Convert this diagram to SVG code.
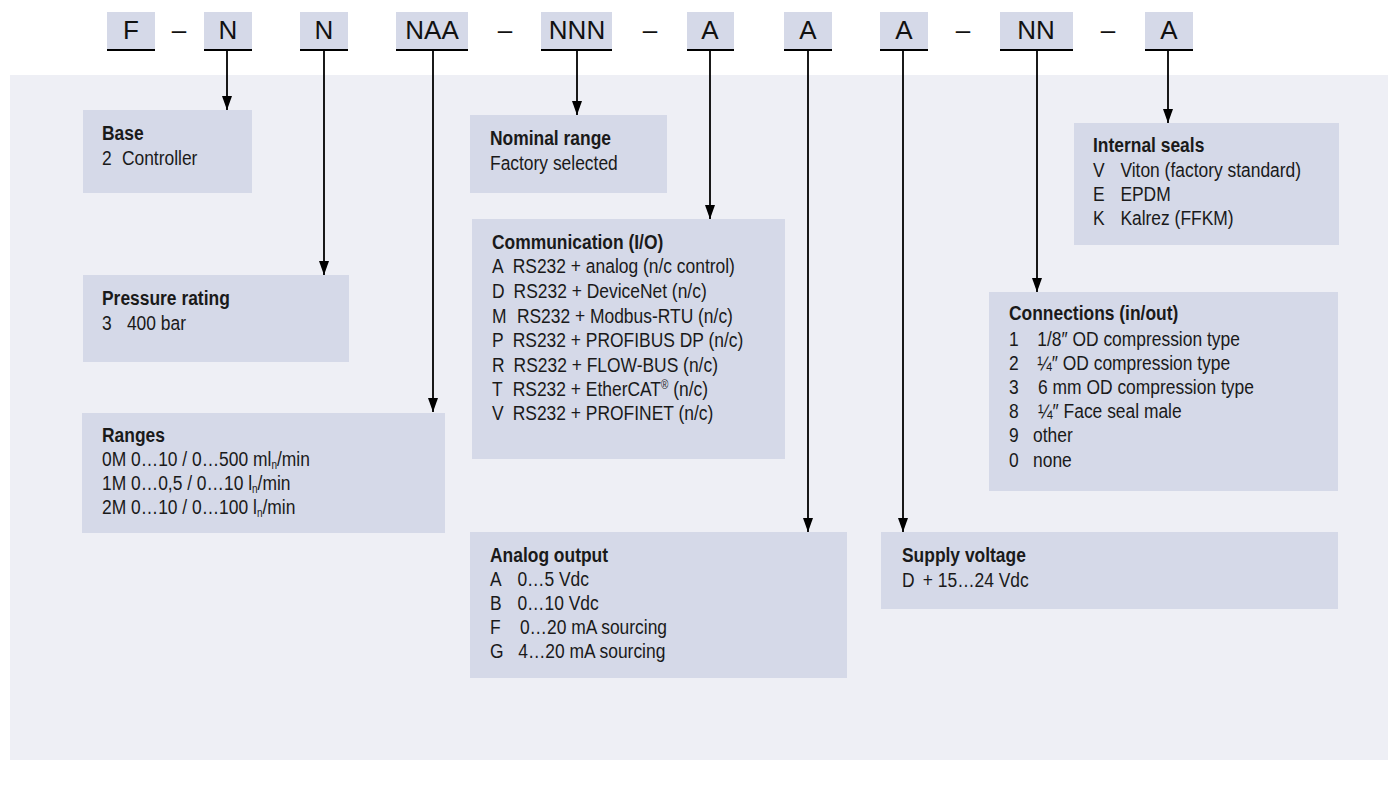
<svg xmlns="http://www.w3.org/2000/svg" width="1392" height="787" viewBox="0 0 1392 787">
<style>
.hb{fill:#d5d9e8}
.ul{stroke:#000;stroke-width:2}
.ht{font-family:"Liberation Sans",Arial,sans-serif;font-size:26px;fill:#111;text-anchor:middle}
.box{fill:#d5d9e8}
.t{font-family:"Liberation Sans",Arial,sans-serif;font-size:21px;fill:#1a1a1a}
.h{font-weight:bold}
.sub{font-size:12px}
.con{stroke:#000;stroke-width:1.8;fill:none;marker-end:url(#ah)}
</style>
<defs>
<marker id="ah" markerUnits="userSpaceOnUse" viewBox="0 -5 14 10" markerWidth="14" markerHeight="10" refX="14" refY="0" orient="auto">
<path d="M0,-5 L14,0 L0,5 z" fill="#000"/>
</marker>
</defs>
<rect x="0" y="0" width="1392" height="787" fill="#fff"/>
<rect x="10" y="75" width="1378" height="685" fill="#eeeff5"/>

<g id="header">
<rect class="hb" x="107" y="12" width="48" height="37"/><line class="ul" x1="107" y1="50" x2="155" y2="50"/><text class="ht" x="131" y="39">F</text>
<text class="ht" x="179" y="39">–</text>
<rect class="hb" x="204" y="12" width="48" height="37"/><line class="ul" x1="204" y1="50" x2="252" y2="50"/><text class="ht" x="228" y="39">N</text>
<rect class="hb" x="300" y="12" width="48" height="37"/><line class="ul" x1="300" y1="50" x2="348" y2="50"/><text class="ht" x="324" y="39">N</text>
<rect class="hb" x="396" y="12" width="72" height="37"/><line class="ul" x1="396" y1="50" x2="468" y2="50"/><text class="ht" x="432" y="39">NAA</text>
<text class="ht" x="505" y="39">–</text>
<rect class="hb" x="541" y="12" width="71" height="37"/><line class="ul" x1="541" y1="50" x2="612" y2="50"/><text class="ht" x="577" y="39">NNN</text>
<text class="ht" x="650" y="39">–</text>
<rect class="hb" x="687" y="12" width="47" height="37"/><line class="ul" x1="687" y1="50" x2="734" y2="50"/><text class="ht" x="710" y="39">A</text>
<rect class="hb" x="784" y="12" width="48" height="37"/><line class="ul" x1="784" y1="50" x2="832" y2="50"/><text class="ht" x="808" y="39">A</text>
<rect class="hb" x="880" y="12" width="48" height="37"/><line class="ul" x1="880" y1="50" x2="928" y2="50"/><text class="ht" x="904" y="39">A</text>
<text class="ht" x="963" y="39">–</text>
<rect class="hb" x="1000" y="12" width="73" height="37"/><line class="ul" x1="1000" y1="50" x2="1073" y2="50"/><text class="ht" x="1036" y="39">NN</text>
<text class="ht" x="1108" y="39">–</text>
<rect class="hb" x="1145" y="12" width="48" height="37"/><line class="ul" x1="1145" y1="50" x2="1193" y2="50"/><text class="ht" x="1169" y="39">A</text>
</g>

<g id="connectors">
<line class="con" x1="227" y1="50" x2="227" y2="110"/>
<line class="con" x1="324" y1="50" x2="324" y2="275"/>
<line class="con" x1="433" y1="50" x2="433" y2="412"/>
<line class="con" x1="577" y1="50" x2="577" y2="115"/>
<line class="con" x1="710" y1="50" x2="710" y2="219"/>
<line class="con" x1="808" y1="50" x2="808" y2="532"/>
<line class="con" x1="903" y1="50" x2="903" y2="532"/>
<line class="con" x1="1037" y1="50" x2="1037" y2="292"/>
<line class="con" x1="1168" y1="50" x2="1168" y2="123"/>
</g>

<g id="base">
<rect class="box" x="83" y="110" width="169" height="83"/>
<g transform="translate(102,0) scale(0.83,1)">
<text class="t h" x="0" y="140">Base</text>
<text class="t" x="0" y="165">2</text><text class="t" x="24" y="165">Controller</text>
</g>
</g>

<g id="pressure">
<rect class="box" x="83" y="275" width="266" height="87"/>
<g transform="translate(102,0) scale(0.83,1)">
<text class="t h" x="0" y="305">Pressure rating</text>
<text class="t" x="0" y="330">3</text><text class="t" x="30" y="330">400 bar</text>
</g>
</g>

<g id="ranges">
<rect class="box" x="82" y="413" width="363" height="120"/>
<g transform="translate(102,0) scale(0.83,1)">
<text class="t h" x="0" y="442">Ranges</text>
<text class="t" x="0" y="466">0M 0…10 / 0…500 ml<tspan class="sub" dy="3">n</tspan><tspan dy="-3">/min</tspan></text>
<text class="t" x="0" y="490">1M 0…0,5 / 0…10 l<tspan class="sub" dy="3">n</tspan><tspan dy="-3">/min</tspan></text>
<text class="t" x="0" y="514">2M 0…10 / 0…100 l<tspan class="sub" dy="3">n</tspan><tspan dy="-3">/min</tspan></text>
</g>
</g>

<g id="nominal">
<rect class="box" x="470" y="115" width="197" height="78"/>
<g transform="translate(490,0) scale(0.83,1)">
<text class="t h" x="0" y="145">Nominal range</text>
<text class="t" x="0" y="170">Factory selected</text>
</g>
</g>

<g id="communication">
<rect class="box" x="472" y="219" width="313" height="240"/>
<g transform="translate(492,0) scale(0.83,1)">
<text class="t h" x="0" y="249">Communication (I/O)</text>
<text class="t" x="0" y="273">A</text><text class="t" x="25" y="273">RS232 + analog (n/c control)</text>
<text class="t" x="0" y="298">D</text><text class="t" x="26" y="298">RS232 + DeviceNet (n/c)</text>
<text class="t" x="0" y="323">M</text><text class="t" x="30" y="323">RS232 + Modbus-RTU (n/c)</text>
<text class="t" x="0" y="347">P</text><text class="t" x="25" y="347">RS232 + PROFIBUS DP (n/c)</text>
<text class="t" x="0" y="372">R</text><text class="t" x="26" y="372">RS232 + FLOW-BUS (n/c)</text>
<text class="t" x="0" y="396">T</text><text class="t" x="25" y="396">RS232 + EtherCAT<tspan class="sub" dy="-7">®</tspan><tspan dy="7"> (n/c)</tspan></text>
<text class="t" x="0" y="420">V</text><text class="t" x="25" y="420">RS232 + PROFINET (n/c)</text>
</g>
</g>

<g id="analog">
<rect class="box" x="470" y="532" width="377" height="146"/>
<g transform="translate(490,0) scale(0.83,1)">
<text class="t h" x="0" y="562">Analog output</text>
<text class="t" x="0" y="586">A</text><text class="t" x="33" y="586">0…5 Vdc</text>
<text class="t" x="0" y="610">B</text><text class="t" x="33" y="610">0…10 Vdc</text>
<text class="t" x="0" y="634">F</text><text class="t" x="36" y="634">0…20 mA sourcing</text>
<text class="t" x="0" y="658">G</text><text class="t" x="34" y="658">4…20 mA sourcing</text>
</g>
</g>

<g id="seals">
<rect class="box" x="1074" y="123" width="265" height="122"/>
<g transform="translate(1093,0) scale(0.83,1)">
<text class="t h" x="0" y="152">Internal seals</text>
<text class="t" x="0" y="177">V</text><text class="t" x="33" y="177">Viton (factory standard)</text>
<text class="t" x="0" y="201">E</text><text class="t" x="33" y="201">EPDM</text>
<text class="t" x="0" y="225">K</text><text class="t" x="33" y="225">Kalrez (FFKM)</text>
</g>
</g>

<g id="connections">
<rect class="box" x="989" y="292" width="349" height="199"/>
<g transform="translate(1009,0) scale(0.83,1)">
<text class="t h" x="0" y="320">Connections (in/out)</text>
<text class="t" x="0" y="346">1</text><text class="t" x="34" y="346">1/8″ OD compression type</text>
<text class="t" x="0" y="370">2</text><text class="t" x="34" y="370">¼″ OD compression type</text>
<text class="t" x="0" y="394">3</text><text class="t" x="35" y="394">6 mm OD compression type</text>
<text class="t" x="0" y="418">8</text><text class="t" x="35" y="418">¼″ Face seal male</text>
<text class="t" x="0" y="442">9</text><text class="t" x="29" y="442">other</text>
<text class="t" x="0" y="467">0</text><text class="t" x="29" y="467">none</text>
</g>
</g>

<g id="supply">
<rect class="box" x="881" y="532" width="457" height="77"/>
<g transform="translate(902,0) scale(0.83,1)">
<text class="t h" x="0" y="562">Supply voltage</text>
<text class="t" x="0" y="587">D</text><text class="t" x="25" y="587">+ 15…24 Vdc</text>
</g>
</g>
</svg>
